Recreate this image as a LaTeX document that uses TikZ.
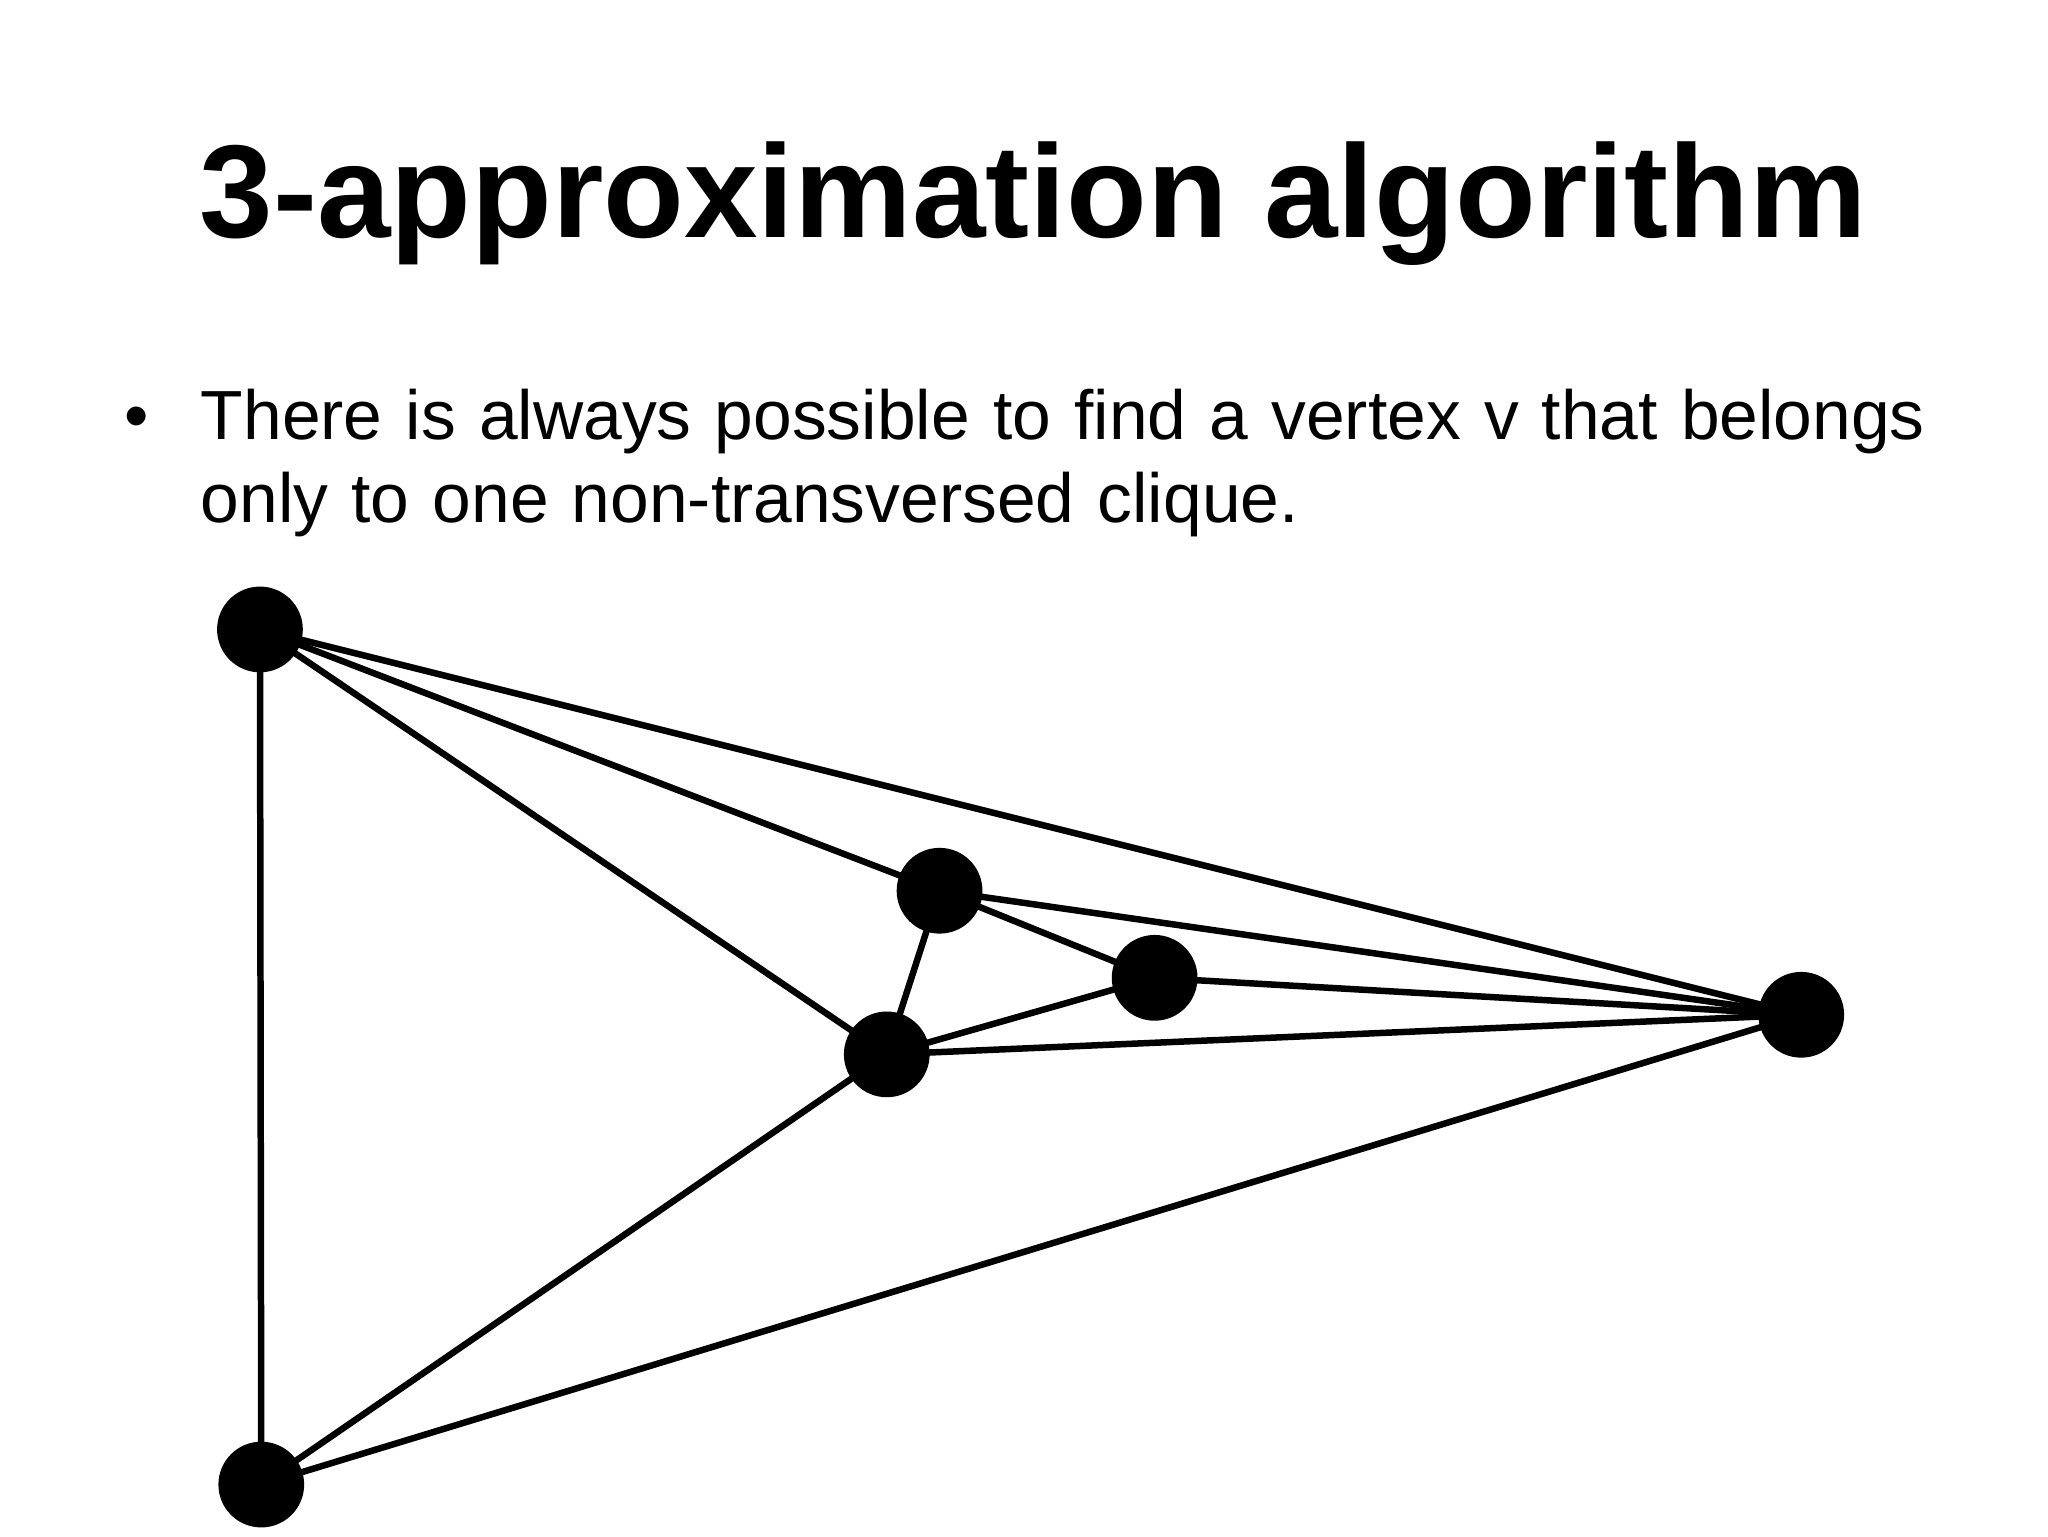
\documentclass[tikz,border=0pt]{standalone}
\usepackage{fontspec}
\setmainfont{Liberation Sans}
\begin{document}
\begin{tikzpicture}[x=0.02cm,y=-0.02cm,
  vert/.style={circle,fill=black,minimum size=1.3cm,inner sep=0pt},
  edge/.style={line width=2.8pt}]
\useasboundingbox (0,0) rectangle (1552,1164);
\node[anchor=base,font=\fontsize{57}{60}\selectfont\bfseries] (title) at (783,180) {3-approximation algorithm};
\node[anchor=base west,font=\fontsize{30}{36}\selectfont] (bul) at (88,333) {•};
\node[anchor=base west,font=\fontsize{30}{36}\selectfont,align=left,text width=30cm] (txt) at (146,333) {There is always possible to find a vertex v that belongs\\only to one non-transversed clique.};
\coordinate (cA) at (197,477);
\coordinate (cB) at (712,675);
\coordinate (cC) at (875,741);
\coordinate (cD) at (672,799);
\coordinate (cE) at (1365,769);
\coordinate (cF) at (198,1125);
\foreach \u/\v in {A/E,A/B,A/D,A/F,B/E,B/C,B/D,C/D,C/E,D/E,D/F,F/E}
  \draw[edge] (c\u) -- (c\v);
\foreach \n in {A,B,C,D,E,F}
  \node[vert] (\n) at (c\n) {};
\end{tikzpicture}
\end{document}
